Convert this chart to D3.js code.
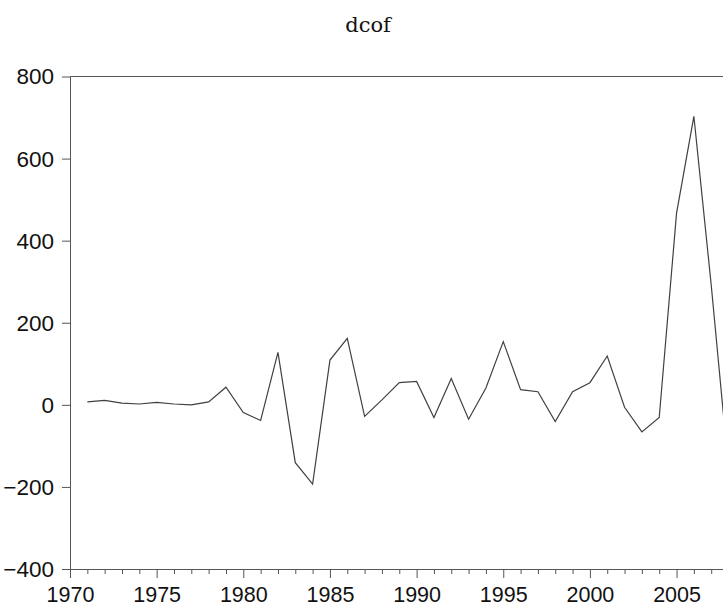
<!DOCTYPE html>
<html>
<head>
<meta charset="utf-8">
<script src="https://cdn.jsdelivr.net/npm/d3@7/dist/d3.min.js"></script>
<style>
  html, body { margin: 0; padding: 0; background: #fff; }
  svg { display: block; }
</style>
</head>
<body>
<script>
// Annual change series, 1971-2008
const years = [1971,1972,1973,1974,1975,1976,1977,1978,1979,1980,
               1981,1982,1983,1984,1985,1986,1987,1988,1989,1990,
               1991,1992,1993,1994,1995,1996,1997,1998,1999,2000,
               2001,2002,2003,2004,2005,2006,2007,2008];
const dcof = [7,11,4,2,6,2,0,7,43,-19,
              -38,128,-141,-193,109,162,-28,12,54,57,
              -31,64,-35,41,154,37,32,-41,32,54,
              119,-6,-66,-31,467,703,292,-155];
const yTicks = [-400,-200,0,200,400,600,800];
const xMajor = [1970,1975,1980,1985,1990,1995,2000,2005];
const title = "dcof";

const W = 723, H = 609;
const plotLeft = 70, plotTop = 76.5, plotBottom = 569;
const perYear = 17.33;
const plotRight = plotLeft + (2008 - 1970) * perYear;

const svg = d3.select("body").append("svg").attr("width", W).attr("height", H);

const x = d3.scaleLinear().domain([1970, 2008]).range([plotLeft, plotRight]);
const y = d3.scaleLinear().domain([-400, 800]).range([plotBottom, plotTop]);

const axisColor = "#555";
const font = "'Liberation Sans', Arial, sans-serif";

// frame: top and right edges
svg.append("line").attr("x1", plotLeft).attr("x2", plotRight).attr("y1", plotTop).attr("y2", plotTop)
  .attr("stroke", axisColor).attr("stroke-width", 1);
svg.append("line").attr("x1", plotRight).attr("x2", plotRight).attr("y1", plotTop).attr("y2", plotBottom)
  .attr("stroke", axisColor).attr("stroke-width", 1);

// y axis
const gy = svg.append("g").attr("transform", `translate(${plotLeft},0)`)
  .call(d3.axisLeft(y).tickValues(yTicks).tickSize(8).tickSizeOuter(0).tickPadding(8));
gy.select(".domain").attr("stroke", axisColor);
gy.selectAll(".tick line").attr("stroke", axisColor);
gy.selectAll(".tick text").attr("font-family", font).attr("font-size", 22.5)
  .attr("fill", "#111").attr("dy", "0.33em");

// x axis: minor ticks every year
const minorYears = d3.range(1970, 2009).filter(v => v % 5 !== 0);
const gxMinor = svg.append("g").attr("transform", `translate(0,${plotBottom})`)
  .call(d3.axisBottom(x).tickValues(minorYears).tickSize(5).tickSizeOuter(0).tickFormat(""));
gxMinor.select(".domain").remove();
gxMinor.selectAll(".tick line").attr("stroke", axisColor);

const gx = svg.append("g").attr("transform", `translate(0,${plotBottom})`)
  .call(d3.axisBottom(x).tickValues(xMajor).tickSize(9).tickSizeOuter(0)
    .tickFormat(d3.format("d")).tickPadding(9));
gx.select(".domain").attr("stroke", axisColor);
gx.selectAll(".tick line").attr("stroke", axisColor);
gx.selectAll(".tick text").attr("font-family", font).attr("font-size", 21.5).attr("fill", "#111");

// series line
const line = d3.line().x((d, i) => x(years[i])).y(d => y(d));
svg.append("path").datum(dcof)
  .attr("d", line)
  .attr("fill", "none")
  .attr("stroke", "#404040")
  .attr("stroke-width", 1.2)
  .attr("stroke-linejoin", "miter");

// title
svg.append("text").attr("x", 368).attr("y", 32).attr("text-anchor", "middle")
  .attr("font-family", "'DejaVu Serif', 'Liberation Serif', serif")
  .attr("font-size", 21).attr("fill", "#111").text(title);
</script>
</body>
</html>
